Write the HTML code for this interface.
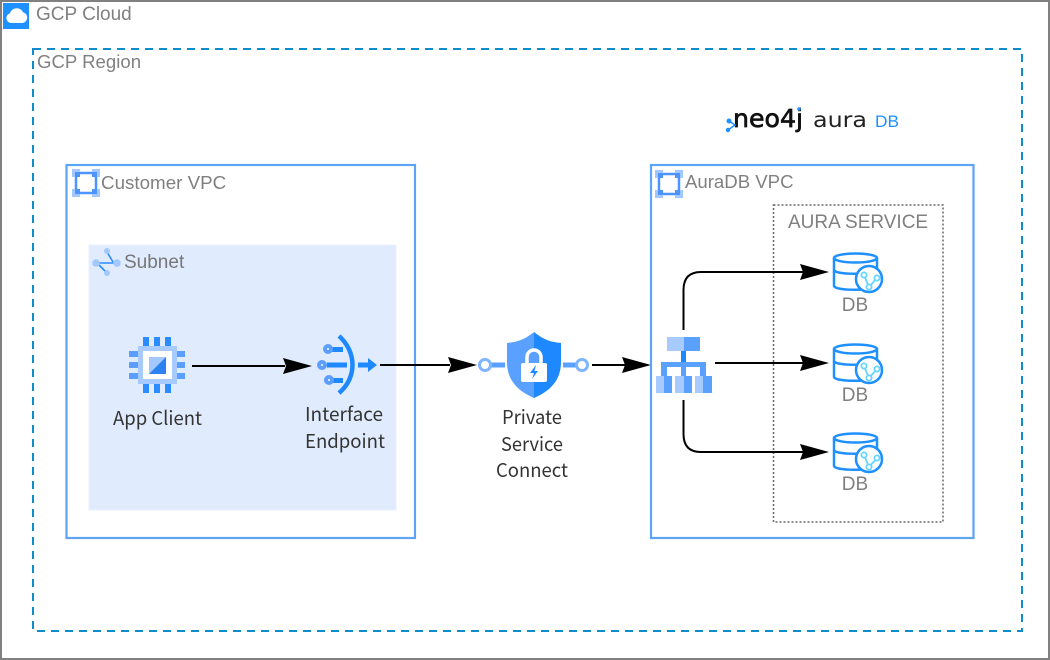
<!DOCTYPE html>
<html><head><meta charset="utf-8"><title>GCP diagram</title>
<style>html,body{margin:0;padding:0;background:#fff}svg{display:block}
.g{font-family:"Liberation Sans",sans-serif;fill:#808080;font-size:19px}
.d{font-family:"Noto Sans CJK JP","Liberation Sans",sans-serif;fill:#333;font-size:19px}</style></head>
<body>
<svg width="1050" height="660" viewBox="0 0 1050 660" xmlns="http://www.w3.org/2000/svg">
<defs>
<g id="vpc">
<path d="M4 4H24V24H4Z" fill="none" stroke="#4d94ff" stroke-width="2.500"/>
<g fill="#a3c8ff"><rect x="0" y="0" width="8" height="8"/><rect x="20" y="0" width="8" height="8"/><rect x="0" y="20" width="8" height="8"/><rect x="20" y="20" width="8" height="8"/></g>
<g fill="#4d94ff"><rect x="3" y="3" width="5" height="5"/><rect x="20" y="3" width="5" height="5"/><rect x="3" y="20" width="5" height="5"/><rect x="20" y="20" width="5" height="5"/></g>
</g>
<g id="db">
<path d="M0 5V33C0 38 43 38 43 33V5" fill="#fff" stroke="#1e90ff" stroke-width="2.500"/>
<ellipse cx="21.500" cy="5" rx="21.500" ry="4.500" fill="#fff" stroke="#1e90ff" stroke-width="2.500"/>
<path d="M0 17C0 22 43 22 43 17" fill="none" stroke="#1e90ff" stroke-width="2.500"/>
<circle cx="35" cy="26" r="13" fill="#fff" stroke="#1e90ff" stroke-width="2.500"/>
<path d="M30 22L35 34L43 25" fill="none" stroke="#66d5ff" stroke-width="1.800"/>
<g fill="#fff" stroke="#66d5ff" stroke-width="1.800"><circle cx="30" cy="22" r="2.600"/><circle cx="35" cy="34" r="2.600"/><circle cx="43" cy="25" r="2.600"/></g>
</g>
<g id="ah"><path d="M0 0L-29 -8L-26 0L-29 8Z" fill="#000"/></g>
</defs>
<rect width="1050" height="660" fill="#fff"/>
<rect x="1" y="1" width="1048" height="658" fill="none" stroke="#808080" stroke-width="2"/>
<rect x="3" y="3" width="26" height="26" fill="#1e90ff"/>
<path d="M11 23a5 5 0 0 1 -1 -9.800a7 7 0 0 1 13 -1a5.500 5.500 0 0 1 -.5 10.800Z" fill="#fff"/>
<text class="g" x="36" y="20">GCP Cloud</text>
<rect x="33" y="49" width="989" height="582" fill="none" stroke="#0e8ccc" stroke-width="2" stroke-dasharray="8 6"/>
<text class="g" x="37" y="68" style="font-size:18.600px">GCP Region</text>

<!-- neo4j logo -->
<text x="733" y="127" font-family="'DejaVu Sans',sans-serif" font-size="25" fill="#111" stroke="#111" stroke-width="0.700" textLength="70" lengthAdjust="spacingAndGlyphs">neo4j</text>
<g fill="#1e90ff"><circle cx="729" cy="121" r="2.500"/><circle cx="728" cy="130" r="2.200"/><circle cx="799" cy="109" r="1.800"/></g>
<path d="M729 121L735 125L728 130" fill="none" stroke="#1e90ff" stroke-width="1.500"/>
<text x="813" y="127" font-family="'DejaVu Sans',sans-serif" font-size="21" fill="#222" textLength="54" lengthAdjust="spacingAndGlyphs">aura</text>
<text x="875" y="127" font-family="'Liberation Sans',sans-serif" font-size="17" fill="#1e90ff" textLength="24" lengthAdjust="spacingAndGlyphs">DB</text>

<!-- Customer VPC -->
<rect x="66.500" y="165" width="348.500" height="373" fill="#fff" stroke="#5da4f5" stroke-width="2.200"/>
<use href="#vpc" x="72" y="169"/>
<text class="g" x="101" y="189" style="font-size:18.800px">Customer VPC</text>
<rect x="89" y="245" width="307" height="265" fill="#e0ecfd" stroke="#e9f1fd" stroke-width="1"/>
<g stroke="#2b8cff" stroke-width="1.600" fill="none"><path d="M96 263H117"/><path d="M107 252L113 262"/><path d="M107 273L99 265"/></g>
<g fill="#a3c8ff"><circle cx="96" cy="263" r="3.800"/><circle cx="117" cy="263" r="3.800"/><circle cx="107" cy="251" r="3"/><circle cx="107" cy="273" r="3"/></g>
<text class="g" x="124" y="268" style="fill:#777">Subnet</text>

<!-- App client chip -->
<g fill="#2b8cff">
<rect x="143" y="337" width="6" height="9"/><rect x="154" y="337" width="6" height="9"/><rect x="165" y="337" width="6" height="9"/>
<rect x="143" y="384" width="6" height="9"/><rect x="154" y="384" width="6" height="9"/><rect x="165" y="384" width="6" height="9"/>
</g>
<g fill="#5a9eff">
<rect x="129" y="351" width="9" height="6"/><rect x="129" y="362" width="9" height="6"/><rect x="129" y="373" width="9" height="6"/>
<rect x="177" y="351" width="8" height="6"/><rect x="177" y="362" width="8" height="6"/><rect x="177" y="373" width="8" height="6"/>
</g>
<rect x="138" y="346" width="39" height="38" fill="#a7cbff"/>
<rect x="143" y="351" width="29" height="28" fill="#fff"/>
<rect x="149" y="357" width="17" height="17" fill="#a3c8ff"/>
<path d="M166 357V374H149Z" fill="#2b82f0"/>
<text class="d" x="113" y="425" textLength="89" lengthAdjust="spacingAndGlyphs">App Client</text>
<path d="M192 366H285" stroke="#000" stroke-width="2" fill="none"/>
<use href="#ah" x="312" y="366"/>

<!-- interface endpoint -->
<path d="M339 336C357 352 357 378 339 393" fill="none" stroke="#1e88ff" stroke-width="4.500"/>
<g fill="#1e88ff"><rect x="332" y="347" width="11" height="5"/><rect x="327" y="362.500" width="20" height="5"/><rect x="332" y="378" width="11" height="5"/></g>
<g fill="#fff" stroke="#5c9eff" stroke-width="4"><circle cx="328" cy="349" r="3"/><circle cx="322" cy="365" r="3"/><circle cx="329" cy="380" r="3"/></g>
<path d="M358 362.500H368V358L377 365L368 372V367.500H358Z" fill="#1e88ff"/>
<text class="d" x="305" y="421" textLength="78" lengthAdjust="spacingAndGlyphs">Interface</text>
<text class="d" x="305" y="448" textLength="80" lengthAdjust="spacingAndGlyphs">Endpoint</text>
<path d="M380 365H450" stroke="#000" stroke-width="2" fill="none"/>
<use href="#ah" x="477" y="365"/>

<!-- PSC -->
<path d="M534 332C524 340 517 342 507 343V362C507 382 520 392 534 398Z" fill="#5aa0ff"/>
<path d="M534 332C544 340 551 342 561 343V362C561 382 548 392 534 398Z" fill="#1e88ff"/>
<path d="M527 364V357a7 7 0 0 1 14 0V364" fill="#5aa0ff" stroke="#fff" stroke-width="3.500"/>
<rect x="521" y="363" width="26" height="19" rx="2" fill="#fff"/>
<path d="M536 365L530 373H534L532 379L538 371H534.500Z" fill="#1e88ff"/>
<rect x="491" y="362.500" width="14" height="5" fill="#5aa0ff"/>
<rect x="563" y="362.500" width="13" height="5" fill="#5aa0ff"/>
<circle cx="485" cy="365" r="5.500" fill="#fff" stroke="#7fb5ff" stroke-width="3"/>
<circle cx="582" cy="365" r="5.500" fill="#fff" stroke="#7fb5ff" stroke-width="3"/>
<text class="d" x="502" y="424" textLength="60" lengthAdjust="spacingAndGlyphs">Private</text>
<text class="d" x="501" y="451" textLength="62" lengthAdjust="spacingAndGlyphs">Service</text>
<text class="d" x="496" y="477" textLength="72" lengthAdjust="spacingAndGlyphs">Connect</text>
<path d="M592 365H625" stroke="#000" stroke-width="2" fill="none"/>
<use href="#ah" x="651" y="365"/>

<!-- AuraDB VPC -->
<rect x="651" y="165" width="322.500" height="373" fill="none" stroke="#5da4f5" stroke-width="2.200"/>
<use href="#vpc" x="655" y="170"/>
<text class="g" x="685" y="188" style="font-size:18.600px">AuraDB VPC</text>
<rect x="773.500" y="205" width="169.500" height="317" fill="none" stroke="#666" stroke-width="1.500" stroke-dasharray="2 2"/>
<text class="g" x="788" y="228">AURA SERVICE</text>

<!-- LB -->
<rect x="667" y="337" width="17" height="14" fill="#a7cbff"/>
<rect x="684" y="337" width="16" height="14" fill="#5aa0ff"/>
<rect x="681" y="351" width="5" height="11" fill="#1e88ff"/>
<path d="M661 362H706V376H700V367H686V376H681V367H667V376H661Z" fill="#5aa0ff"/>
<rect x="656" y="376" width="8" height="17" fill="#a7cbff"/><rect x="664" y="376" width="8" height="17" fill="#5aa0ff"/>
<rect x="675" y="376" width="9" height="17" fill="#a7cbff"/><rect x="684" y="376" width="8" height="17" fill="#5aa0ff"/>
<rect x="695" y="376" width="8" height="17" fill="#a7cbff"/><rect x="703" y="376" width="9" height="17" fill="#5aa0ff"/>

<g fill="none" stroke="#000" stroke-width="2">
<path d="M683.500 330V290Q683.500 272 701 272H805"/>
<path d="M715 363H805"/>
<path d="M683.500 400V434Q683.500 452 701 452H805"/>
</g>
<use href="#ah" x="829" y="272"/>
<use href="#ah" x="829" y="363"/>
<use href="#ah" x="829" y="452"/>

<use href="#db" x="834" y="253"/>
<use href="#db" x="834" y="344"/>
<use href="#db" x="834" y="433"/>
<text class="g" x="855" y="311" text-anchor="middle">DB</text>
<text class="g" x="855" y="401" text-anchor="middle">DB</text>
<text class="g" x="855" y="490" text-anchor="middle">DB</text>
</svg>
</body></html>
